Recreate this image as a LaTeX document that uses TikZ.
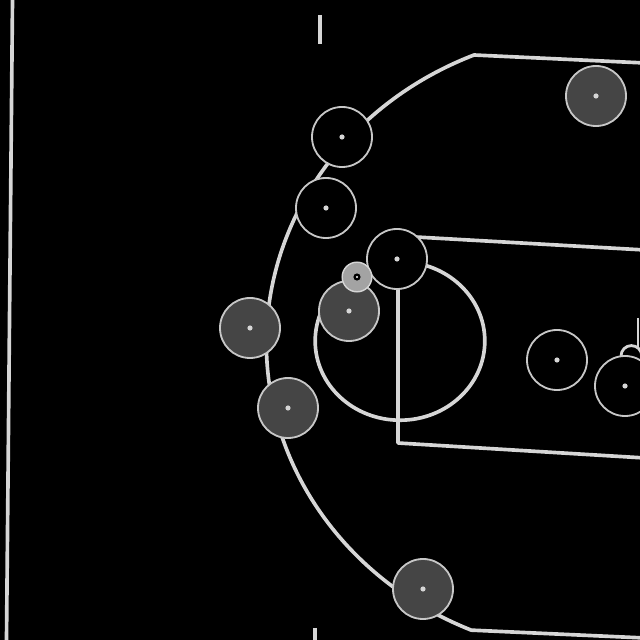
\documentclass[tikz,border=0pt]{standalone}
\usepackage{tikz}
\usetikzlibrary{calc}
\definecolor{chalk}{gray}{0.84}
\definecolor{ringc}{gray}{0.78}
\definecolor{awayc}{gray}{0.27}
\definecolor{ballc}{gray}{0.64}

\begin{document}
\begin{tikzpicture}[x=0.025cm, y=0.025cm,
  court/.style={draw=chalk, line width=2.6pt, line join=round},
  home/.style={draw=ringc, fill=black, circle, line width=1.3pt, minimum size=1.5cm, inner sep=0pt},
  away/.style={draw=ringc, fill=awayc, circle, line width=1.3pt, minimum size=1.5cm, inner sep=0pt},
  ballnode/.style={draw=chalk, fill=ballc, circle, line width=1pt, minimum size=0.74cm, inner sep=0pt},
  spot/.style={fill=chalk}]
  \fill[black] (0,0) rectangle (640,640);
  \useasboundingbox (0,0) rectangle (640,640);
  \clip (0,0) rectangle (640,640);
  % court lines
  \draw[court] (12.5,640) -- (6.5,0);
  \draw[court] (320,625) -- (320,596);
  \draw[court] (315,12) -- (315,-5);
  \draw[court] (645,577) -- (474,585)
    arc[start angle=112.6, end angle=246.9, x radius=8.425cm, y radius=7.8cm] -- (645,2);
  \draw[court] (645,390) -- (398,404) -- (398,197) -- (645,182);
  \draw[court] (400,299) ellipse[x radius=2.12cm, y radius=1.98cm];
  \draw[court, line width=2pt] (638,322) -- (638,292);
  \draw[court, line width=2pt] (621,284) arc[start angle=180, end angle=0, radius=0.26cm];
  % home team
  \node[home] (h1) at (342,503) {};
  \node[home] (h2) at (326,432) {};
  \node[home] (h3) at (397,381) {};
  \node[home] (h4) at (557,280) {};
  \node[home] (h5) at (625,254) {};
  % away team
  \node[away] (a1) at (596,544) {};
  \node[away] (a2) at (250,312) {};
  \node[away] (a3) at (349,329) {};
  \node[away] (a4) at (288,232) {};
  \node[away] (a5) at (423,51) {};
  \foreach \p in {h1,h2,h3,h4,h5,a1,a2,a3,a4,a5}
    \fill[spot] (\p) circle[radius=0.065cm];
  % ball
  \node[ballnode] (ball) at (357,363) {};
  \fill[black] (ball) circle[radius=0.09cm];
  \fill[white] (ball) circle[radius=0.03cm];
\end{tikzpicture}
\end{document}
